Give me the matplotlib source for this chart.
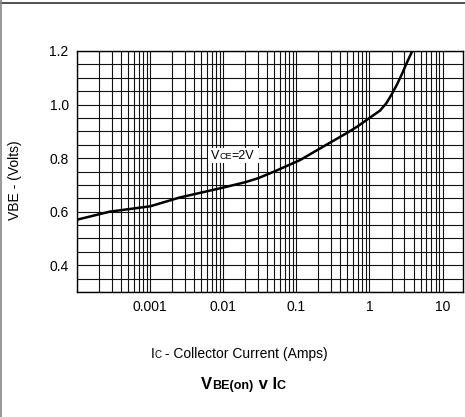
import matplotlib
matplotlib.use("Agg")
import matplotlib.pyplot as plt
from matplotlib.lines import Line2D
from matplotlib.patches import Rectangle
from matplotlib.ticker import FixedLocator, NullFormatter, LogLocator
from matplotlib.transforms import IdentityTransform

plt.rcParams["font.family"] = ["Liberation Sans", "DejaVu Sans"]

# collector current (A) and VBE(on) (V)
ic_amps = [1e-4, 2.8e-4, 1e-3, 2.55e-3, 0.01, 0.02, 0.03, 0.05, 0.111, 0.286,
           0.5, 0.7, 1.0, 1.2, 1.4, 1.7, 2.0, 2.4, 2.84, 3.3, 3.85]
vbe_volts = [0.57, 0.60, 0.62, 0.653, 0.69, 0.71, 0.725, 0.75, 0.792, 0.857,
             0.895, 0.92, 0.95, 0.965, 0.978, 1.005, 1.037, 1.077, 1.12, 1.161, 1.2]

x_ticks = [1e-3, 1e-2, 1e-1, 1, 10]
x_tick_labels = ["0.001", "0.01", "0.1", "1", "10"]
y_ticks = [0.4, 0.6, 0.8, 1.0, 1.2]
y_tick_labels = ["0.4", "0.6", "0.8", "1.0", "1.2"]

W, H = 465, 417
fig = plt.figure(figsize=(W / 100, H / 100), dpi=100)
ax = fig.add_axes([77 / W, 1 - 292 / H, (463 - 77) / W, (292 - 51) / H])

ax.plot(ic_amps, vbe_volts, color="black", lw=1.8, zorder=3)
ax.set_xscale("log")
ax.set_xlim(1e-4, 19)
ax.set_ylim(0.3, 1.2)

ax.xaxis.set_minor_locator(LogLocator(base=10, subs=range(2, 10), numticks=20))
ax.xaxis.set_minor_formatter(NullFormatter())
ax.xaxis.set_major_locator(FixedLocator([1e-4] + x_ticks))
ax.set_xticklabels([""] + x_tick_labels)
ax.set_yticks(y_ticks, y_tick_labels)
ax.yaxis.set_minor_locator(FixedLocator([0.3 + 0.05 * i for i in range(19)]))

ax.grid(which="both", color="#111111", lw=0.8)
ax.tick_params(which="both", length=0, labelsize=10, pad=6)
for s in ax.spines.values():
    s.set_color("black")
    s.set_linewidth(1.0)

# figure border (top and left only)
fig.add_artist(Line2D([0, 1], [1 - 2.5 / H, 1 - 2.5 / H], color="#333333", lw=1.2))
fig.add_artist(Line2D([0.6 / W, 0.6 / W], [0, 1], color="#888888", lw=1.2))

renderer = fig.canvas.get_renderer()


def rich_text(cx, baseline, pieces, center=True):
    texts = []
    x = 0.0
    for s, size, weight in pieces:
        t = fig.text(x, baseline, s, fontsize=size, weight=weight,
                     ha="left", va="baseline", transform=IdentityTransform())
        x += t.get_window_extent(renderer).width
        texts.append(t)
    shift = cx - x / 2 if center else cx
    for t in texts:
        px, py = t.get_position()
        t.set_position((px + shift, py))
    return texts, x


# y label
fig.text(15, H - 180, "VBE - (Volts)", fontsize=10, rotation=90,
         ha="center", va="center", transform=IdentityTransform())

# x label
rich_text(239, H - 358, [("I", 10, "normal"), ("C", 7, "normal"),
                         (" - Collector Current (Amps)", 10, "normal")])

# title
rich_text(243.5, H - 389, [("V", 12, "bold"), ("BE(on)", 9, "bold"),
                           (" v I", 12, "bold"), ("C", 9, "bold")])

# VCE annotation with white background
texts, width = rich_text(211, H - 159, [("V", 9, "normal"), ("CE", 6.5, "normal"),
                                         ("=2V", 9, "normal")], center=False)
fig.add_artist(Rectangle((208, H - 163), width + 7, 15, transform=IdentityTransform(),
                         facecolor="white", edgecolor="none", zorder=1))
for t in texts:
    t.set_zorder(2)

fig.savefig("out.png", dpi=100)
